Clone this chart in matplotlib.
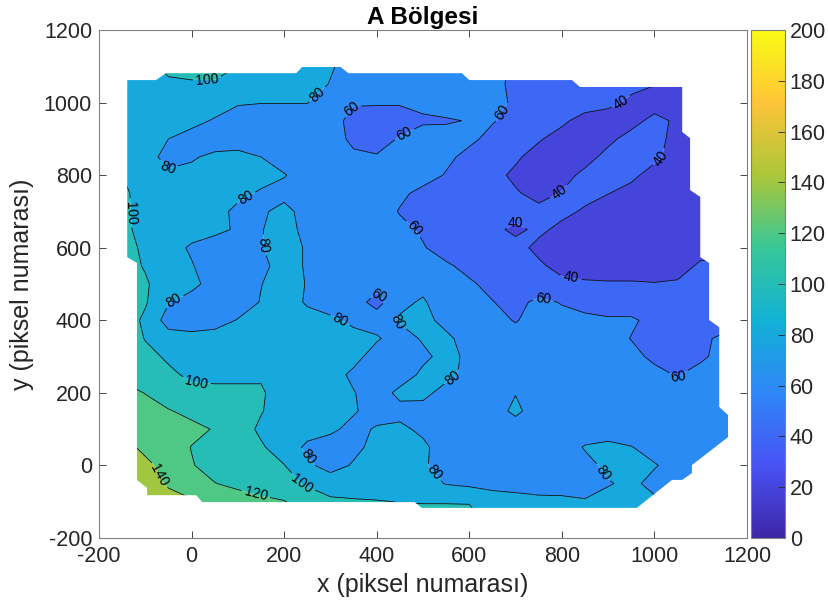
import numpy as np
import matplotlib
matplotlib.use("Agg")
import matplotlib.pyplot as plt
from matplotlib.colors import LinearSegmentedColormap, Normalize
from matplotlib.patches import Polygon
from matplotlib.cm import ScalarMappable

plt.rcParams['font.family'] = ['Liberation Sans', 'DejaVu Sans']
plt.rcParams['axes.unicode_minus'] = False

# ---------------- data ----------------
title = "A Bölgesi"
xlabel = "x (piksel numarası)"
ylabel = "y (piksel numarası)"

# grid positions (pixel numbers)
grid_x = list(range(-150, 1201, 50))          # 28 columns
grid_y = list(range(1100, -151, -50))         # 26 rows, top to bottom

# values (rows follow grid_y, columns follow grid_x)
z_rows = [
    [90, 96, 104, 106, 106, 100, 92, 90, 88, 82, 72, 70, 70, 70, 70, 70, 66, 56, 50, 50, 50, 50, 46, 42, 36, 36, 36, 36],   # 1100
    [90, 92, 97, 98, 98, 95, 90, 90, 88, 79, 70, 70, 70, 70, 70, 70, 66, 55, 50, 50, 50, 47, 45, 40.5, 35, 35, 35, 35],   # 1050
    [90, 90, 90, 90, 90, 82, 80.5, 80.5, 80.5, 70, 62, 62, 62, 65, 70, 70, 68, 56, 50, 50, 50, 45, 36, 32, 34, 34, 34, 34],  # 1000
    [90, 90, 90, 86, 78, 70, 70, 70, 70, 70, 52, 50, 50, 57, 58, 61, 61, 55, 50, 44, 32, 30, 34, 45, 37, 35, 35, 35],      # 950
    [90, 88, 80, 72, 70, 70, 70, 70, 70, 70, 55, 50, 62, 70, 68, 63, 56, 50, 42, 32, 30, 36, 46, 45, 35, 33, 33, 33],      # 900
    [90, 86, 75, 78, 84, 86, 80, 72, 70, 70, 64, 62, 66, 68, 63, 56, 50, 43, 32, 30, 34, 45, 50, 44, 32, 30, 30, 30],      # 850
    [100, 88, 83, 85, 86, 86, 86, 81, 72, 70, 70, 70, 70, 66, 59, 52, 46, 36, 32, 34, 44, 50, 44, 33, 30, 30, 30, 30],     # 800
    [104, 92, 88, 88, 88, 84, 78, 74, 70, 70, 70, 70, 63, 56, 52, 50, 48, 42, 34, 41, 47, 40.5, 34, 30, 30, 30, 30, 30],   # 750
    [106, 90, 86, 86, 86, 76, 77, 86, 72, 70, 70, 68, 59, 53, 50, 50, 50, 48, 45, 46, 37, 30, 30, 30, 30, 30, 30, 30],     # 700
    [106, 92, 86, 86, 84, 78, 79, 88, 74, 70, 70, 68, 64, 58, 50, 48, 46, 35, 45, 34, 30, 30, 30, 30, 30, 30, 30, 30],     # 650
    [108, 96, 86, 78, 72, 72, 79, 88, 78, 70, 70, 70, 68, 61, 54, 50, 50, 48, 34, 30, 30, 30, 30, 30, 30, 30, 30, 30],     # 600
    [110, 98, 86, 81, 72, 72, 75, 88, 78, 70, 70, 70, 68, 66, 62, 56, 50, 48, 44, 32, 30, 30, 30, 30, 30, 44, 48, 48],     # 550
    [112, 103, 86, 84, 74, 72, 79.5, 88, 79, 70, 70, 68, 68, 75, 64, 62, 56, 50, 48, 46, 43, 42, 42, 41, 43, 48, 50, 50],  # 500
    [112, 102, 81, 74, 70, 70, 81, 88, 78, 70, 70, 52, 76, 82, 70, 66, 60.5, 55, 64, 59, 54, 52, 52, 52, 50, 50, 50, 50],  # 450
    [112, 96, 72, 70, 72, 81, 86, 88, 86, 84, 76, 72, 82, 86, 74, 68, 65, 59, 66, 65, 64, 62, 62, 56, 52, 50, 50, 50],     # 400
    [114, 99, 88, 86, 88, 88, 88, 88, 88, 88, 86, 82, 72, 82, 84, 72, 66, 66, 68, 68, 68, 66, 59.5, 54, 52, 56, 64, 66],   # 350
    [114, 106, 97, 92, 90, 90, 90, 90, 90, 88, 86, 72, 70, 76, 86, 76, 66, 66, 66, 66, 66, 66, 64, 57, 54, 57, 66, 66],    # 300
    [116, 110, 104, 96, 96, 96, 98, 90, 90, 88, 76, 70, 70, 84, 86, 74, 66, 66, 66, 66, 66, 66, 66, 64, 59, 66, 66, 66],   # 250
    [126, 119.5, 112, 106, 104, 104, 102, 92, 90, 88, 81, 70, 85, 86, 72, 66, 66, 79, 66, 66, 66, 66, 66, 66, 66, 66, 64, 64],  # 200
    [128, 126, 121, 116, 112, 108, 101, 92, 90, 88, 82, 72, 74, 72, 68, 68, 68, 86, 66, 66, 66, 66, 66, 66, 66, 66, 66, 66],   # 150
    [132, 128, 128, 124, 119, 108, 97, 90, 88, 84, 74, 82, 84, 76, 68, 66, 66, 66, 66, 66, 66, 68, 66, 66, 66, 66, 66, 66],    # 100
    [146, 136, 128, 119.5, 114, 110, 102, 92, 76, 70, 75, 86, 88, 84, 70, 66, 66, 66, 66, 66, 82, 86, 81, 70, 66, 66, 66, 66],  # 50
    [148, 144, 134, 121, 114, 110, 104, 100.5, 84, 72, 82, 88, 88, 83, 70, 66, 66, 66, 66, 66, 72, 86, 88, 82, 70, 66, 66, 66],  # 0
    [150, 148, 138, 130, 120.5, 116, 112, 106, 98, 92, 90, 90, 90, 88, 79, 76, 75, 74, 73, 72, 70, 78, 86, 72, 66, 66, 66, 66],  # -50
    [150, 150, 146, 142, 136, 128, 124, 121, 110, 103, 102, 101, 99.5, 99, 99, 99, 88, 86, 84, 84, 82, 90, 90, 85, 70, 66, 66, 66],  # -100
    [152, 152, 150, 146, 140, 132, 128, 124, 116, 110, 108, 106, 108, 108, 108, 106, 94, 92, 90, 90, 88, 92, 92, 88, 72, 68, 66, 66],  # -150
]

# outline of the measured area
domain_x = [-139, -77, -55, 226, 239, 322, 339, 584, 600, 822, 839, 1060, 1060, 1077, 1077, 1099,
            1099, 1118, 1118, 1140, 1140, 1159, 1159, 1081, 1081, 1060, 1038, 962, 497, 482, 23,
            10, -96, -96, -118, -118, -139]
domain_y = [1062, 1062, 1081, 1081, 1098, 1098, 1081, 1081, 1062, 1062, 1043, 1043, 919, 902, 759, 740,
            574, 558, 401, 381, 161, 139, 78, 1, -21, -40, -40, -117, -117, -101, -101,
            -82, -82, -62, -40, 558, 574]

fill_levels = list(range(0, 201, 20))
line_levels = list(range(20, 181, 20))
cbar_ticks = list(range(0, 201, 20))
axis_ticks = list(range(-200, 1201, 200))

# places where the contour labels sit
label_spots = [
    (34, 1062), (285, 1004), (350, 980), (460, 911), (674, 971), (930, 999),
    (1027, 828), (796, 751), (703, 674), (822, 539), (-64, 806), (114, 745),
    (146, 607), (488, 663), (-129, 696), (-27, 428), (410, 475), (324, 409),
    (449, 401), (763, 478), (10, 230), (568, 235), (1055, 241), (-77, -32),
    (244, 15), (233, -62), (140, -73), (512, -32), (891, -18),
]

# ---------------- colormap (parula-like) ----------------
parula_anchor = [
    (0.2422, 0.1504, 0.6603),
    (0.2810, 0.3228, 0.9579),
    (0.1786, 0.5289, 0.9682),
    (0.0689, 0.6948, 0.8394),
    (0.2161, 0.7843, 0.5923),
    (0.6720, 0.7793, 0.2227),
    (0.9970, 0.7659, 0.2199),
    (0.9769, 0.9839, 0.0805),
]
cmap = LinearSegmentedColormap.from_list("parula", parula_anchor, N=256)
norm = Normalize(vmin=0, vmax=200)

X, Y = np.meshgrid(np.array(grid_x, float), np.array(grid_y, float))
Z = np.array(z_rows, float)

fig = plt.figure(figsize=(8.29, 6.10), dpi=100)
ax = fig.add_axes([99 / 829, 72 / 610, 648 / 829, 508 / 610])
cax = fig.add_axes([751 / 829, 72 / 610, 34 / 829, 508 / 610])

ax.set_xlim(-200, 1200)
ax.set_ylim(-200, 1200)

fill_colors = [cmap(norm(v)) for v in fill_levels[:-1]]
cf = ax.contourf(X, Y, Z, levels=fill_levels, colors=fill_colors, antialiased=True)
cl = ax.contour(X, Y, Z, levels=line_levels, colors='k', linewidths=0.55)
labels = ax.clabel(cl, inline=True, fontsize=10, fmt='%d', inline_spacing=3,
                   manual=label_spots)

domain = Polygon(np.column_stack([domain_x, domain_y]), closed=True,
                 transform=ax.transData, facecolor='none', edgecolor='none')
ax.add_patch(domain)
cf.set_clip_path(domain)
cl.set_clip_path(domain)
for t in labels:
    t.set_clip_path(domain)

ax.set_xticks(axis_ticks)
ax.set_yticks(axis_ticks)
ax.tick_params(direction='in', length=5, width=0.6, top=True, right=True,
               labelsize=15.5, colors='#262626')
ax.tick_params(axis='x', pad=6)
ax.tick_params(axis='y', pad=5)
for s in ax.spines.values():
    s.set_color('#808080')
    s.set_linewidth(0.8)
ax.set_xlabel(xlabel, fontsize=18, color='#262626', labelpad=4)
ax.set_ylabel(ylabel, fontsize=18, color='#262626', labelpad=7)
ax.set_title(title, fontsize=17.5, fontweight='bold', color='#000000', pad=4)

sm = ScalarMappable(norm=norm, cmap=cmap)
cb = fig.colorbar(sm, cax=cax, ticks=cbar_ticks)
cb.ax.tick_params(direction='in', length=5, width=0.6, labelsize=15.5, colors='#262626')
cb.outline.set_edgecolor('#808080')
cb.outline.set_linewidth(0.8)

fig.savefig("out.png", dpi=100)
